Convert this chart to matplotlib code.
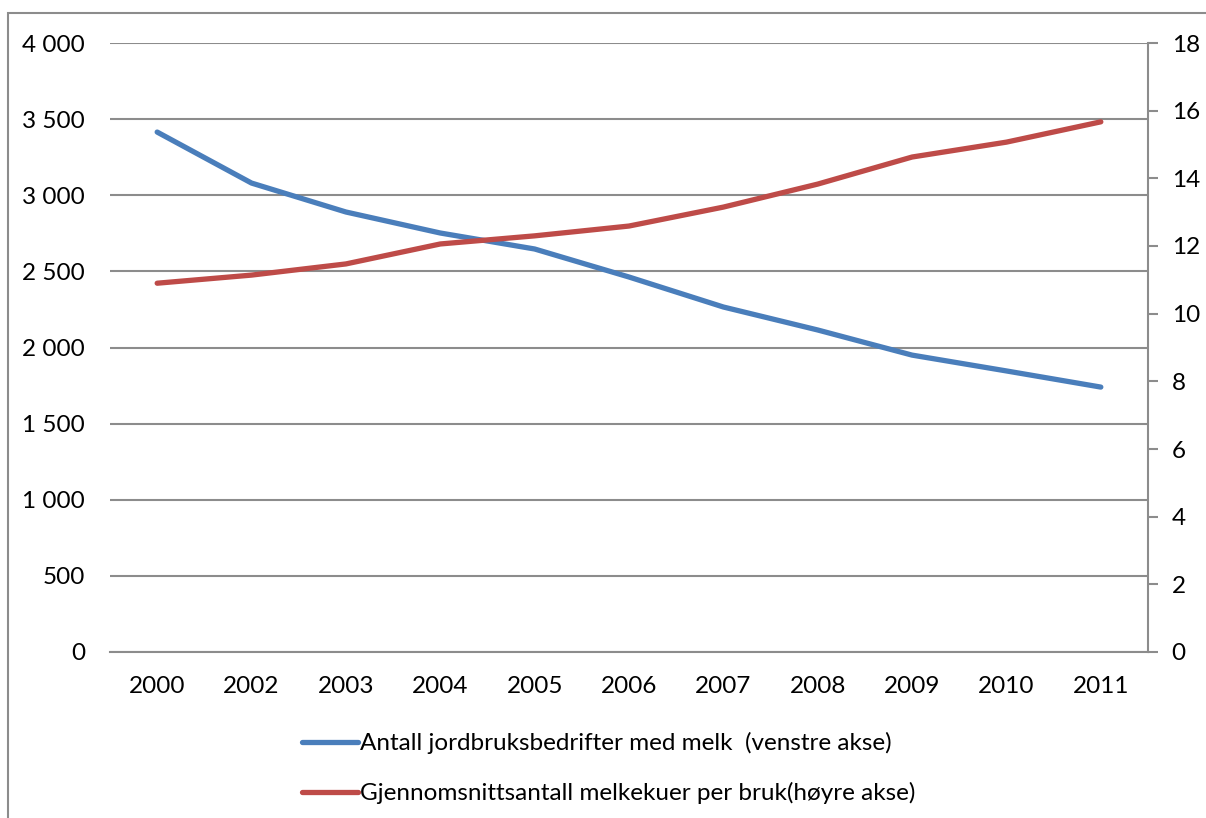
import matplotlib.pyplot as plt
from matplotlib.patches import Rectangle
from matplotlib.ticker import FuncFormatter

# Data
years = ["2000", "2002", "2003", "2004", "2005", "2006",
         "2007", "2008", "2009", "2010", "2011"]
farms = [3415, 3080, 2890, 2752, 2647, 2463, 2266, 2115, 1950, 1846, 1740]
cows_per_farm = [10.9, 11.14, 11.47, 12.06, 12.3, 12.59,
                 13.15, 13.83, 14.63, 15.07, 15.67]

label_farms = "Antall jordbruksbedrifter med melk  (venstre akse)"
label_cows = "Gjennomsnittsantall melkekuer per bruk(høyre akse)"

plt.rcParams["font.family"] = ["Lato", "DejaVu Sans"]
BLUE = "#4A7EBB"
RED = "#BE4B48"
GRID = "#8C8C8C"
FS = 17.5

W, H = 1206, 818
fig = plt.figure(figsize=(W / 100, H / 100), dpi=100)

# plot area in pixels: x 110..1148, y 43..652
left, right, top, bottom = 110, 1148, 43, 652
ax = fig.add_axes([left / W, 1 - bottom / H, (right - left) / W, (bottom - top) / H])
ax2 = ax.twinx()

x = list(range(len(years)))
ax.plot(x, farms, color=BLUE, lw=3.8, solid_capstyle="round", label=label_farms)
ax2.plot(x, cows_per_farm, color=RED, lw=3.8, solid_capstyle="round", label=label_cows)

ax.set_xlim(-0.5, len(years) - 0.5)
ax.set_ylim(0, 4000)
ax2.set_ylim(0, 18)
ax.set_yticks(range(0, 4001, 500))
ax2.set_yticks(range(0, 19, 2))
ax.yaxis.set_major_formatter(
    FuncFormatter(lambda v, p: "{:,}".format(int(v)).replace(",", " ")))
ax.set_xticks(x)
ax.set_xticklabels(years)

ax.grid(axis="y", color=GRID, lw=1.5)
ax.set_axisbelow(True)
for a in (ax, ax2):
    for s in a.spines.values():
        s.set_visible(False)
ax.spines["bottom"].set_visible(True)
ax.spines["bottom"].set_color(GRID)
ax.spines["bottom"].set_linewidth(1.5)
ax2.spines["right"].set_visible(True)
ax2.spines["right"].set_color(GRID)
ax2.spines["right"].set_linewidth(1.5)

ax.tick_params(axis="y", length=0, pad=18, labelsize=FS)
ax.tick_params(axis="x", length=0, pad=17, labelsize=FS)
ax2.tick_params(axis="y", length=7, width=1.5, color=GRID, pad=10, labelsize=FS)

fig.legend(handles=[ax.lines[0], ax2.lines[0]], loc="upper left",
           bbox_to_anchor=(290 / W, 1 - 720 / H), frameon=False,
           fontsize=FS, handlelength=2.3, handletextpad=0.1,
           labelspacing=1.15, borderpad=0)

# outer chart border (cropped at right and bottom)
fig.patches.append(Rectangle((8 / W, -0.1), 1.2, 1 - 13 / H + 0.1,
                             transform=fig.transFigure, fill=False,
                             edgecolor="#8C8C8C", lw=1.5))

fig.savefig("out.png", dpi=100)
